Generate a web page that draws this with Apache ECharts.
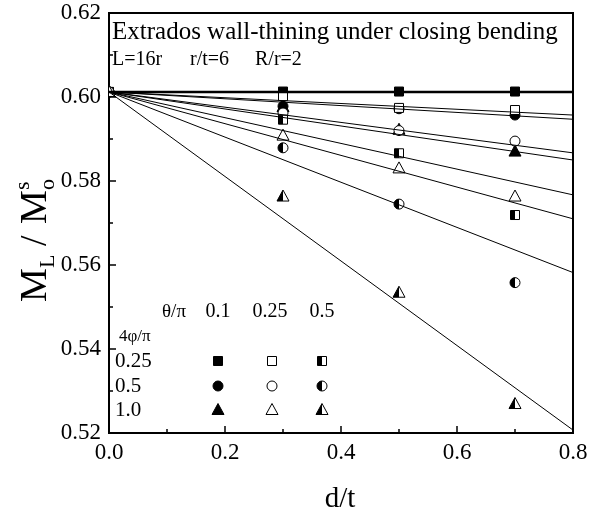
<!DOCTYPE html>
<html><head><meta charset="utf-8">
<script src="https://cdn.jsdelivr.net/npm/echarts@6/dist/echarts.min.js"></script>
<style>html,body{margin:0;padding:0;background:#fff}#c{width:598px;height:517px}</style>
</head><body><div id="c"></div>
<script>
// ---- data ----
const xValues = [0, 0.3, 0.5, 0.7];
// 4phi/pi = 0.25
const sqTheta01  = [0.6012, 0.6013, 0.6013, 0.6013];
const sqTheta025 = [0.6012, 0.6002, 0.5974, 0.5969];
const sqTheta05  = [0.6012, 0.5946, 0.5866, 0.5719];
// 4phi/pi = 0.5
const ciTheta01  = [0.6012, 0.5978, 0.5972, 0.5957];
const ciTheta025 = [0.6012, 0.5962, 0.5920, 0.5895];
const ciTheta05  = [0.6012, 0.5879, 0.5745, 0.5558];
// 4phi/pi = 1.0
const trTheta01  = [0.6012, 0.5976, 0.5922, 0.5870];
const trTheta025 = [0.6012, 0.5908, 0.5830, 0.5763];
const trTheta05  = [0.6012, 0.5763, 0.5534, 0.5269];
// fitted straight lines: value at d/t = 0 and at d/t = 0.8
const fitX = [0, 0.8];
const fitStart = 0.6012;
const fitEnd = {sq01:0.6012, sq025:0.5957, sq05:0.5710, ci01:0.5947, ci025:0.5867, ci05:0.5582, tr01:0.5850, tr025:0.5767, tr05:0.5207};
const xTicks = [0, 0.2, 0.4, 0.6, 0.8];
const yTicks = [0.52, 0.54, 0.56, 0.58, 0.60, 0.62];
const thetaLabels = ['0.1', '0.25', '0.5'];
const phiLabels = ['0.25', '0.5', '1.0'];

const FONT = '"Liberation Serif", "Times New Roman", serif';

const seriesDefs = [
  {key:'sq01', vals:sqTheta01, shape:'square', fill:'full'},
  {key:'ci01', vals:ciTheta01, shape:'circle', fill:'full'},
  {key:'tr01', vals:trTheta01, shape:'triangle', fill:'full'},
  {key:'sq025', vals:sqTheta025, shape:'square', fill:'open'},
  {key:'ci025', vals:ciTheta025, shape:'circle', fill:'open'},
  {key:'tr025', vals:trTheta025, shape:'triangle', fill:'open'},
  {key:'sq05', vals:sqTheta05, shape:'square', fill:'half'},
  {key:'ci05', vals:ciTheta05, shape:'circle', fill:'half'},
  {key:'tr05', vals:trTheta05, shape:'triangle', fill:'half'}
];

function shapeEls(shape, fill, x, y) {
  const bg = fill === 'full' ? '#000' : '#fff';
  const st = {fill: bg, stroke: '#000', lineWidth: 1};
  const k = [];
  if (shape === 'square') {
    const h = 4.5;
    k.push({type:'rect', shape:{x:x-h, y:y-h, width:2*h, height:2*h}, style:st});
    if (fill === 'half') k.push({type:'rect', shape:{x:x-h, y:y-h, width:h, height:2*h}, style:{fill:'#000'}});
  } else if (shape === 'circle') {
    k.push({type:'circle', shape:{cx:x, cy:y, r:5}, style:st});
    if (fill === 'half') k.push({type:'sector', shape:{cx:x, cy:y, r0:0, r:5, startAngle:Math.PI/2, endAngle:Math.PI*1.5, clockwise:true}, style:{fill:'#000'}});
  } else {
    k.push({type:'polygon', shape:{points:[[x, y-6.5],[x+6, y+4.5],[x-6, y+4.5]]}, style:st});
    if (fill === 'half') k.push({type:'polygon', shape:{points:[[x, y-6.5],[x, y+4.5],[x-6, y+4.5]]}, style:{fill:'#000'}});
  }
  return k;
}

const series = [];
seriesDefs.forEach(d => {
  series.push({
    type:'custom', name:d.key, z:3, clip:true,
    data: xValues.map((x,i) => [x, d.vals[i]]),
    renderItem: (params, api) => {
      const p = api.coord([api.value(0), api.value(1)]);
      return {type:'group', children: shapeEls(d.shape, d.fill, p[0], p[1])};
    },
    animation:false
  });
});
seriesDefs.forEach(d => {
  series.push({
    type:'line', z:5, symbol:'none', silent:true, animation:false, clip:true,
    data: [[fitX[0], fitStart], [fitX[1], fitEnd[d.key]]],
    lineStyle:{color:'#000', width: d.key === 'sq01' ? 2.5 : 1}
  });
});

// legend table (graphic)
const graphic = [];
const txt = (text, x, y, size, align) => ({type:'text', x, y, style:{text, font: size + 'px ' + FONT, fill:'#000', align: align || 'left', verticalAlign:'middle'}});
graphic.push(txt('Extrados wall-thining under closing bending', 112, 32, 25));
graphic.push(txt('L=16r', 112, 60, 20));
graphic.push(txt('r/t=6', 190, 60, 20));
graphic.push(txt('R/r=2', 255, 60, 20));
graphic.push(txt('\u03b8/\u03c0', 162, 312, 19));
const colX = [218, 272, 322];
const rowY = [361, 386, 410];
thetaLabels.forEach((t, i) => graphic.push(txt(t, colX[i] + (i === 1 ? -2 : 0), 312, 20, 'center')));
graphic.push(txt('4\u03c6/\u03c0', 119, 337, 17));
phiLabels.forEach((t, j) => graphic.push(txt(t, 115, rowY[j], 21)));
const shapesRow = ['square', 'circle', 'triangle'];
const fillsCol = ['full', 'open', 'half'];
rowY.forEach((y, j) => colX.forEach((x, i) => {
  shapeEls(shapesRow[j], fillsCol[i], x, y).forEach(e => graphic.push(e));
}));
// y-axis title, rotated
graphic.push({
  type:'group', x:36, y:302, rotation:Math.PI/2,
  children:[
    {type:'text', x:0, y:0, style:{text:'M', font:'38px ' + FONT, fill:'#000', verticalAlign:'middle'}},
    {type:'text', x:34, y:12, style:{text:'L', font:'22px ' + FONT, fill:'#000', verticalAlign:'middle'}},
    {type:'text', x:56, y:0, style:{text:'/', font:'38px ' + FONT, fill:'#000', verticalAlign:'middle'}},
    {type:'text', x:78, y:0, style:{text:'M', font:'38px ' + FONT, fill:'#000', verticalAlign:'middle'}},
    {type:'text', x:112, y:-13, style:{text:'s', font:'22px ' + FONT, fill:'#000', verticalAlign:'middle'}},
    {type:'text', x:112, y:12, style:{text:'o', font:'22px ' + FONT, fill:'#000', verticalAlign:'middle'}}
  ]
});
graphic.push(txt('d/t', 340, 499, 29, 'center'));

const chart = echarts.init(document.getElementById('c'), null, {renderer:'canvas'});
chart.setOption({
  animation:false,
  backgroundColor:'#fff',
  grid:{left:109, right:25, top:13, bottom:84, show:true, borderColor:'#000', borderWidth:2, backgroundColor:'transparent'},
  xAxis:{
    type:'value', min:xTicks[0], max:xTicks[xTicks.length-1], interval:xTicks[1]-xTicks[0],
    axisLine:{show:true, onZero:false, lineStyle:{color:'#000', width:2}},
    axisTick:{show:true, inside:true, length:7, lineStyle:{color:'#000', width:1.5}},
    minorTick:{show:true, splitNumber:2, length:4, lineStyle:{color:'#000', width:1.5}},
    splitLine:{show:false},
    axisLabel:{color:'#000', fontFamily:FONT, fontSize:23, margin:8, formatter: v => v.toFixed(1)}
  },
  yAxis:{
    type:'value', min:yTicks[0], max:yTicks[yTicks.length-1], interval:0.02,
    axisLine:{show:true, onZero:false, lineStyle:{color:'#000', width:2}},
    axisTick:{show:true, inside:true, length:7, lineStyle:{color:'#000', width:1.5}},
    minorTick:{show:true, splitNumber:2, length:4, lineStyle:{color:'#000', width:1.5}},
    splitLine:{show:false},
    axisLabel:{color:'#000', fontFamily:FONT, fontSize:23, margin:8, formatter: v => v.toFixed(2)}
  },
  graphic: graphic,
  series: series
});
</script></body></html>
